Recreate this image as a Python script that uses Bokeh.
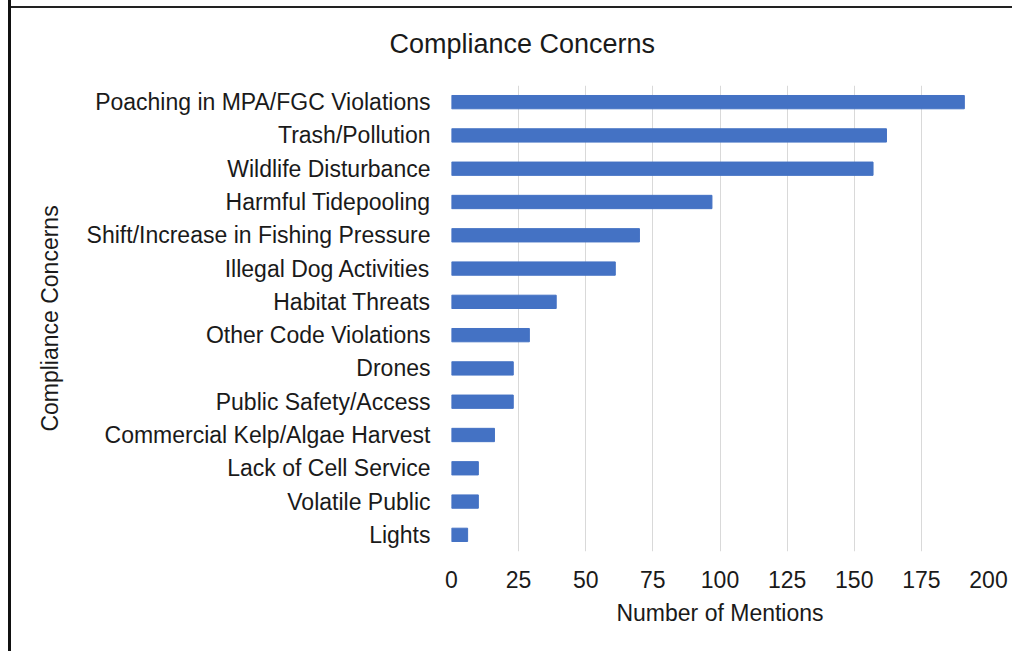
from bokeh.plotting import figure
from bokeh.models import Range1d, FactorRange
from bokeh.embed import file_html
from bokeh.resources import INLINE

categories = [
    "Poaching in MPA/FGC Violations",
    "Trash/Pollution",
    "Wildlife Disturbance",
    "Harmful Tidepooling",
    "Shift/Increase in Fishing Pressure",
    "Illegal Dog Activities",
    "Habitat Threats",
    "Other Code Violations",
    "Drones",
    "Public Safety/Access",
    "Commercial Kelp/Algae Harvest",
    "Lack of Cell Service",
    "Volatile Public",
    "Lights",
]
mentions = [191, 162, 157, 97, 70, 61, 39, 29, 23, 23, 16, 10, 10, 6]
x_ticks = [0, 25, 50, 75, 100, 125, 150, 175, 200]

FONT = "Liberation Sans"
TXT = "#1a1a1a"

p = figure(
    width=1004, height=651,
    y_range=FactorRange(factors=list(reversed(categories)), range_padding=0),
    x_range=Range1d(0, 200),
    output_backend="svg", toolbar_location=None,
    min_border_left=440, min_border_right=27, min_border_top=84, min_border_bottom=100,
    title="Compliance Concerns",
    margin=(0, 0, 0, 8),
    styles={
        "border-left": "3px solid #111111",
        "background": "linear-gradient(#222222, #222222) 0px 6px / 100% 2px no-repeat, #ffffff",
    },
)
p.border_fill_color = None
p.background_fill_color = "white"

p.hbar(y=categories, right=mentions, left=0, height=0.4, color="#4472C4")

p.title.text_font = FONT
p.title.text_font_size = "27px"
p.title.text_font_style = "normal"
p.title.text_color = TXT
p.title.align = "left"
p.title.offset = -62
p.title.standoff = 53

p.outline_line_color = None
p.ygrid.grid_line_color = None
p.xgrid.grid_line_color = "#d9d9d9"
p.xgrid.grid_line_width = 1
p.xaxis.ticker = x_ticks

for ax in (p.xaxis[0], p.yaxis[0]):
    ax.axis_line_color = None
    ax.major_tick_line_color = None
    ax.minor_tick_line_color = None
    ax.major_tick_out = 0
    ax.major_tick_in = 0
    ax.minor_tick_out = 0
    ax.minor_tick_in = 0
    ax.major_label_text_font = FONT
    ax.major_label_text_font_size = "23px"
    ax.major_label_text_color = TXT
    ax.axis_label_text_font = FONT
    ax.axis_label_text_font_size = "23px"
    ax.axis_label_text_font_style = "normal"
    ax.axis_label_text_color = TXT

p.xaxis.axis_label = "Number of Mentions"
p.xaxis.major_label_standoff = 19
p.xaxis.axis_label_standoff = 9
p.yaxis.axis_label = "Compliance Concerns"
p.yaxis.major_label_standoff = 21
p.yaxis.axis_label_standoff = 21

open("out.html", "w").write(file_html(p, INLINE))
